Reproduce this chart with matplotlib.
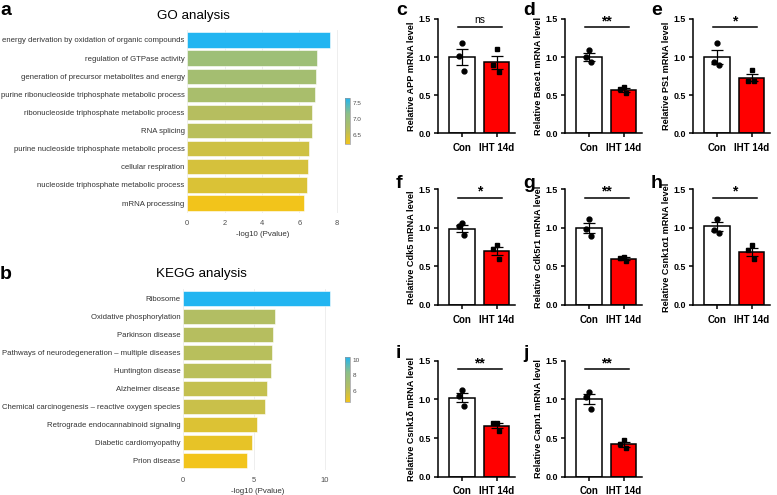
import numpy as np
import matplotlib
matplotlib.use("Agg")
import matplotlib.pyplot as plt
from matplotlib.colors import LinearSegmentedColormap, Normalize
from matplotlib.cm import ScalarMappable

plt.rcParams['font.family'] = ['Liberation Sans', 'DejaVu Sans']

# --- enrichment data (top to bottom) ---
go_terms = [
    "energy derivation by oxidation of organic compounds",
    "regulation of GTPase activity",
    "generation of precursor metabolites and energy",
    "purine ribonucleoside triphosphate metabolic process",
    "ribonucleoside triphosphate metabolic process",
    "RNA splicing",
    "purine nucleoside triphosphate metabolic process",
    "cellular respiration",
    "nucleoside triphosphate metabolic process",
    "mRNA processing",
]
go_values = [7.66, 6.95, 6.88, 6.82, 6.68, 6.66, 6.50, 6.45, 6.41, 6.23]

kegg_terms = [
    "Ribosome",
    "Oxidative phosphorylation",
    "Parkinson disease",
    "Pathways of neurodegeneration \u2013 multiple diseases",
    "Huntington disease",
    "Alzheimer disease",
    "Chemical carcinogenesis \u2013 reactive oxygen species",
    "Retrograde endocannabinoid signaling",
    "Diabetic cardiomyopathy",
    "Prion disease",
]
kegg_values = [10.42, 6.51, 6.39, 6.32, 6.25, 5.94, 5.80, 5.21, 4.86, 4.53]

# --- qPCR data ---
genes = ["APP", "Bace1", "PS1", "Cdk5", "Cdk5r1", "Csnk1\u03b11", "Csnk1\u03b4", "Capn1"]
letters = ["c", "d", "e", "f", "g", "h", "i", "j"]
groups = ["Con", "IHT 14d"]
con_mean = [1.00, 1.00, 1.00, 0.99, 1.00, 1.02, 1.02, 1.00]
con_sem = [0.105, 0.055, 0.09, 0.045, 0.065, 0.055, 0.06, 0.065]
iht_mean = [0.93, 0.57, 0.73, 0.70, 0.60, 0.69, 0.66, 0.42]
iht_sem = [0.085, 0.025, 0.045, 0.05, 0.02, 0.055, 0.035, 0.03]
con_points = [[1.18, 1.01, 0.82], [1.09, 1.00, 0.93], [1.19, 0.94, 0.90],
              [1.06, 1.02, 0.91], [1.12, 0.98, 0.90], [1.12, 0.97, 0.93],
              [1.12, 1.04, 0.92], [1.10, 1.03, 0.87]]
iht_points = [[1.10, 0.89, 0.81], [0.61, 0.58, 0.53], [0.83, 0.69, 0.68],
              [0.78, 0.72, 0.60], [0.62, 0.61, 0.57], [0.78, 0.71, 0.59],
              [0.69, 0.69, 0.59], [0.48, 0.42, 0.37]]
sig_labels = ["ns", "**", "*", "*", "**", "*", "**", "**"]

W, H = 777, 495
fig = plt.figure(figsize=(W / 100, H / 100), dpi=100)


def px(l, t, r, b):
    return [l / W, 1 - b / H, (r - l) / W, (b - t) / H]


cmap = LinearSegmentedColormap.from_list(
    "enr", ["#F2C41B", "#B2BE63", "#8BBF8A", "#22B5F1"])


def enrich_panel(rect, cb_rect, terms, values, xmax, xticks, cbticks, title, tx, ty):
    ax = fig.add_axes(rect)
    norm = Normalize(min(values), max(values))
    y = np.arange(len(terms))
    ax.barh(y, values, height=0.84, color=cmap(norm(values)),
            edgecolor='white', linewidth=0.4, zorder=2)
    ax.set_ylim(len(terms) - 0.45, -0.55)
    ax.set_xlim(0, xmax)
    ax.set_yticks(y)
    ax.set_yticklabels(terms, fontsize=5.6, color='#333333')
    ax.set_xticks(xticks)
    ax.tick_params(axis='x', labelsize=5.4, colors='#4D4D4D', length=0, pad=5)
    ax.tick_params(axis='y', length=0, pad=2)
    for s in ax.spines.values():
        s.set_visible(False)
    ax.grid(axis='x', color='#EBEBEB', linewidth=0.6, zorder=0)
    ax.set_axisbelow(True)
    ax.set_xlabel("-log10 (Pvalue)", fontsize=5.7, color='#333333', labelpad=3)
    fig.text(tx / W, 1 - ty / H, title, fontsize=9.6, ha='center', va='center')

    cax = fig.add_axes(cb_rect)
    cb = fig.colorbar(ScalarMappable(norm=norm, cmap=cmap), cax=cax)
    cb.set_ticks(cbticks)
    cb.ax.tick_params(labelsize=4.6, colors='#4D4D4D', length=0, pad=2)
    cb.outline.set_edgecolor('#999999')
    cb.outline.set_linewidth(0.5)


enrich_panel(px(187.3, 30, 339, 213), px(345, 98, 349.5, 144),
             go_terms, go_values, 8.12, [0, 2, 4, 6, 8], [6.5, 7.0, 7.5],
             "GO analysis", 193, 16)
enrich_panel(px(183.1, 289, 333, 470), px(345, 357, 349.5, 402),
             kegg_terms, kegg_values, 10.6, [0, 5, 10], [6, 8, 10],
             "KEGG analysis", 201, 274)

fig.text(0 / W, 1 - 15 / H, "a", fontsize=14, fontweight='bold', va='baseline')
fig.text(0 / W, 1 - 279 / H, "b", fontsize=14, fontweight='bold', va='baseline')

# --- bar panels ---
col_left = [438, 565, 693]
row_top = [19, 189.3, 360.7]
row_bot = [133.3, 305, 476.7]
row_letter = [15, 188, 358]
jitter = [0.0, -0.1, 0.06]

for i, gene in enumerate(genes):
    r, c = divmod(i, 3)
    left = col_left[c]
    ax = fig.add_axes(px(left, row_top[r], left + 77, row_bot[r]))
    xs = [0, 1]
    ax.bar(xs, [con_mean[i], iht_mean[i]], width=0.74,
           color=['white', '#FF0000'], edgecolor='black', linewidth=1.1, zorder=2)
    ax.errorbar(xs, [con_mean[i], iht_mean[i]], yerr=[con_sem[i], iht_sem[i]],
                fmt='none', ecolor='black', elinewidth=0.9, capsize=4.5,
                capthick=0.9, zorder=3)
    ax.plot(np.array(jitter), con_points[i], 'o', color='black',
            markersize=3.5, zorder=4)
    ax.plot(1 + np.array(jitter), iht_points[i], 's', color='black',
            markersize=3.3, zorder=4)
    ax.set_xlim(-0.7, 1.53)
    ax.set_ylim(0, 1.5)
    ax.set_yticks([0, 0.5, 1.0, 1.5])
    ax.set_yticklabels(["0.0", "0.5", "1.0", "1.5"])
    ax.set_xticks(xs)
    ax.set_xticklabels(groups)
    for lab in ax.get_xticklabels() + ax.get_yticklabels():
        lab.set_fontweight('bold')
    ax.tick_params(axis='y', labelsize=6.4, width=1.1, length=3, pad=2)
    ax.tick_params(axis='x', labelsize=7.0, width=1.1, length=3, pad=4)
    ax.spines['top'].set_visible(False)
    ax.spines['right'].set_visible(False)
    ax.spines['left'].set_linewidth(1.1)
    ax.spines['bottom'].set_linewidth(1.1)
    ax.set_ylabel("Relative %s mRNA level" % gene, fontsize=6.6,
                  fontweight='bold', labelpad=2)
    ax.plot([-0.12, 1.15], [1.39, 1.39], color='black', linewidth=1.1,
            clip_on=False)
    if sig_labels[i] == "ns":
        ax.text(0.5, 1.42, "ns", ha='center', va='bottom', fontsize=7.5)
    else:
        ax.text(0.5, 1.38, sig_labels[i], ha='center', va='bottom',
                fontsize=10, fontweight='bold')
    fig.text((left - 42) / W, 1 - row_letter[r] / H, letters[i], fontsize=14,
             fontweight='bold', va='baseline')

fig.savefig("out.png", dpi=100)
